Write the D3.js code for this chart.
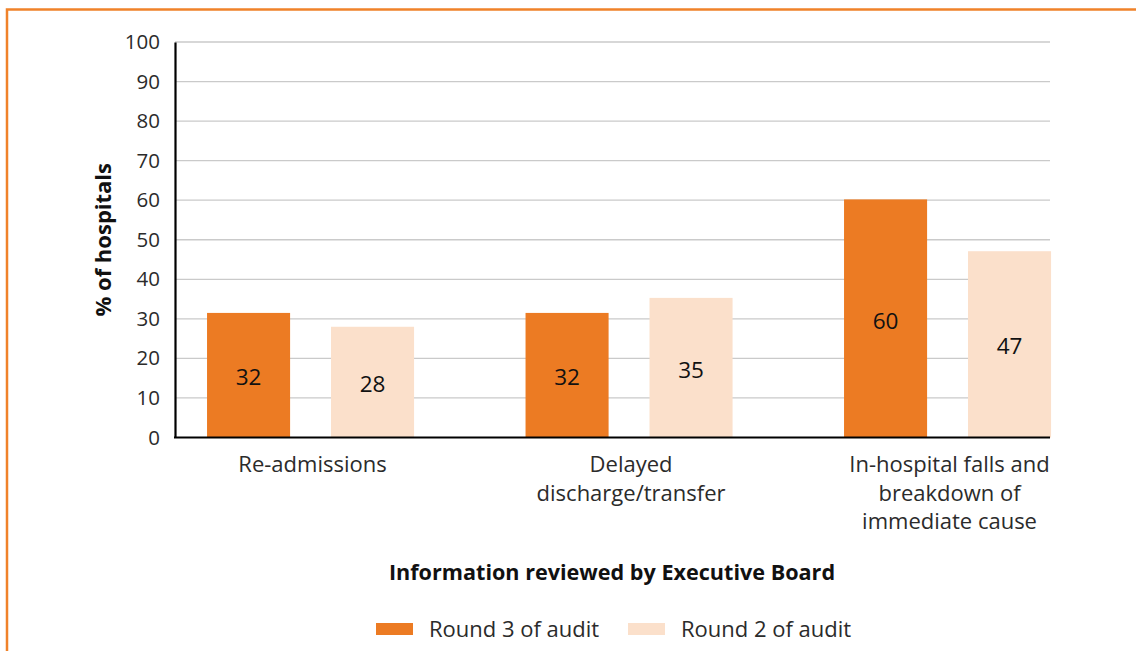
<!DOCTYPE html>
<html>
<head>
<meta charset="utf-8">
<script src="https://cdn.jsdelivr.net/npm/d3@7"></script>
<style>
  body { margin: 0; background: #fff; }
  text { font-family: "Open Sans", Lato, sans-serif; }
</style>
</head>
<body>
<script>
// chart values
let categories = [["Re-admissions"], ["Delayed", "discharge/transfer"], ["In-hospital falls and", "breakdown of", "immediate cause"]]
let seriesNames = ["Round 3 of audit", "Round 2 of audit"]
let round3 = [31.5, 31.5, 60.2]
let round2 = [28, 35.3, 47.1]
let yTicks = [0, 10, 20, 30, 40, 50, 60, 70, 80, 90, 100]

let colors = ["#ec7b23", "#fbe0cb"]
let width = 1136
let height = 651

let plotLeft = 175      // y axis position
let plotRight = 1050    // gridlines stop here
let plotTop = 42
let plotBottom = 437.5

let svg = d3.select('body')
    .append('svg')
    .attr('width', width)
    .attr('height', height)

// orange frame, runs off the right and bottom edges
svg.append('rect')
    .attr('x', 7)
    .attr('y', 9.5)
    .attr('width', width + 20)
    .attr('height', height + 20)
    .attr('fill', 'none')
    .attr('stroke', '#f0822a')
    .attr('stroke-width', 2.5)

let y = d3.scaleLinear()
    .domain([0, 100])
    .range([plotBottom, plotTop])

let x0 = d3.scaleBand()
    .domain(d3.range(categories.length))
    .range([151.3, 1106.8])
    .paddingInner(0.35)
    .paddingOuter(0.175)

let x1 = d3.scaleBand()
    .domain(d3.range(seriesNames.length))
    .range([0, x0.bandwidth()])
    .paddingInner(0.33)

// gridlines
svg.append('g')
    .selectAll('line')
    .data(yTicks.slice(1))
    .enter()
    .append('line')
    .attr('x1', plotLeft)
    .attr('x2', plotRight)
    .attr('y1', d => y(d))
    .attr('y2', d => y(d))
    .attr('stroke', '#cacaca')
    .attr('stroke-width', 1.3)

// bars
let rows = categories.map((c, i) => [round3[i], round2[i]])

let group = svg.append('g')
    .selectAll('g')
    .data(rows)
    .enter()
    .append('g')
    .attr('transform', (d, i) => 'translate(' + x0(i) + ',0)')

group.selectAll('rect')
    .data(d => d)
    .enter()
    .append('rect')
    .attr('x', (d, j) => x1(j))
    .attr('y', d => y(d))
    .attr('width', x1.bandwidth())
    .attr('height', d => y(0) - y(d))
    .attr('fill', (d, j) => colors[j])

group.selectAll('text')
    .data(d => d)
    .enter()
    .append('text')
    .attr('x', (d, j) => x1(j) + x1.bandwidth() / 2)
    .attr('y', d => (y(d) + y(0)) / 2 + 2)
    .attr('dy', '0.36em')
    .attr('text-anchor', 'middle')
    .attr('font-size', 22.5)
    .attr('font-weight', 500)
    .attr('fill', '#111')
    .text(d => d3.format('.0f')(d))

// y axis
let yAxis = svg.append('g')
    .attr('transform', 'translate(' + plotLeft + ',0)')
    .call(d3.axisLeft(y).tickValues(yTicks).tickSize(0).tickPadding(15))

yAxis.select('.domain')
    .attr('stroke', '#000')
    .attr('stroke-width', 2.2)
yAxis.selectAll('text')
    .attr('font-size', 20.5)
    .attr('fill', '#2b2b2b')
    .attr('font-family', '"Open Sans", sans-serif')

// x axis baseline
svg.append('line')
    .attr('x1', plotLeft - 1)
    .attr('x2', plotRight)
    .attr('y1', y(0))
    .attr('y2', y(0))
    .attr('stroke', '#000')
    .attr('stroke-width', 2.2)

// category labels
svg.append('g')
    .selectAll('text')
    .data(categories)
    .enter()
    .append('text')
    .attr('x', (d, i) => x0(i) + x0.bandwidth() / 2 + 2)
    .attr('y', 472)
    .attr('text-anchor', 'middle')
    .attr('font-size', 22)
    .attr('fill', '#2b2b2b')
    .each(function(d) {
        d3.select(this).selectAll('tspan')
            .data(d)
            .enter()
            .append('tspan')
            .attr('x', d3.select(this).attr('x'))
            .attr('dy', (t, k) => k === 0 ? 0 : 28.5)
            .text(t => t)
    })

// axis titles
svg.append('text')
    .attr('x', 612)
    .attr('y', 580)
    .attr('text-anchor', 'middle')
    .attr('font-size', 21.6)
    .attr('font-weight', 700)
    .attr('fill', '#111')
    .text('Information reviewed by Executive Board')

svg.append('text')
    .attr('transform', 'translate(111,' + (plotTop + plotBottom) / 2 + ') rotate(-90)')
    .attr('text-anchor', 'middle')
    .attr('font-size', 22)
    .attr('font-weight', 700)
    .attr('fill', '#111')
    .text('% of hospitals')

// legend
let legendX = [376, 628]
let legend = svg.append('g')
    .selectAll('g')
    .data(seriesNames)
    .enter()
    .append('g')
    .attr('transform', (d, i) => 'translate(' + legendX[i] + ',623)')

legend.append('rect')
    .attr('width', 37)
    .attr('height', 12)
    .attr('fill', (d, i) => colors[i])

legend.append('text')
    .attr('x', 53)
    .attr('y', 13.5)
    .attr('font-size', 22)
    .attr('fill', '#2b2b2b')
    .text(d => d)
</script>
</body>
</html>
